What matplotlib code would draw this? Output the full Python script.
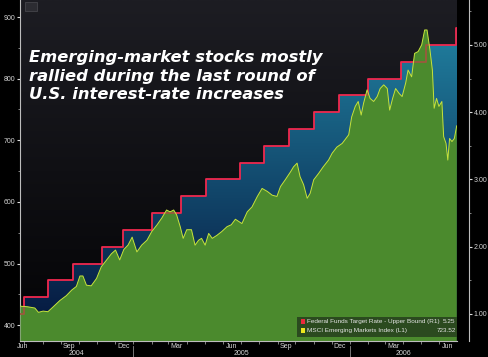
import numpy as np
import pandas as pd
import matplotlib
matplotlib.use('Agg')
import matplotlib.pyplot as plt
import matplotlib.dates as mdates
import matplotlib.transforms as mtransforms
from matplotlib.colors import to_rgb
from matplotlib.patches import Rectangle
from matplotlib.ticker import FormatStrFormatter

# MSCI Emerging Markets Index (left axis)
idx_dates = ['2004-06-24', '2004-07-07', '2004-07-19', '2004-07-25', '2004-08-02', '2004-08-10',
             '2004-08-19', '2004-08-30', '2004-09-10', '2004-09-19', '2004-09-27', '2004-10-03',
             '2004-10-08', '2004-10-14', '2004-10-22', '2004-10-31', '2004-11-08', '2004-11-17',
             '2004-11-25', '2004-12-02', '2004-12-09', '2004-12-16', '2004-12-23', '2004-12-30',
             '2005-01-07', '2005-01-15', '2005-01-24', '2005-02-01', '2005-02-10', '2005-02-18',
             '2005-02-26', '2005-03-04', '2005-03-10', '2005-03-15', '2005-03-21', '2005-03-26',
             '2005-04-01', '2005-04-09', '2005-04-15', '2005-04-21', '2005-04-26', '2005-05-02',
             '2005-05-08', '2005-05-14', '2005-05-22', '2005-05-30', '2005-06-08', '2005-06-15',
             '2005-06-22', '2005-07-03', '2005-07-12', '2005-07-20', '2005-07-29', '2005-08-06',
             '2005-08-15', '2005-08-23', '2005-08-31', '2005-09-06', '2005-09-14', '2005-09-23',
             '2005-09-28', '2005-10-04', '2005-10-09', '2005-10-15', '2005-10-21', '2005-10-26',
             '2005-11-01', '2005-11-09', '2005-11-17', '2005-11-26', '2005-12-02', '2005-12-10',
             '2005-12-19', '2005-12-30', '2006-01-04', '2006-01-10', '2006-01-15', '2006-01-20',
             '2006-01-24', '2006-01-30', '2006-02-04', '2006-02-10', '2006-02-16', '2006-02-21',
             '2006-02-27', '2006-03-05', '2006-03-09', '2006-03-14', '2006-03-19', '2006-03-25',
             '2006-03-30', '2006-04-05', '2006-04-09', '2006-04-15', '2006-04-20', '2006-04-26',
             '2006-05-02', '2006-05-07', '2006-05-11', '2006-05-16', '2006-05-20', '2006-05-23',
             '2006-05-27', '2006-05-31', '2006-06-05', '2006-06-08', '2006-06-12', '2006-06-15',
             '2006-06-18', '2006-06-22', '2006-06-26', '2006-06-30']
idx_vals = [431, 430, 428, 421, 423, 422,
            430, 440, 448, 457, 463, 480,
            480, 465, 464, 476, 495, 506,
            516, 522, 506, 523, 530, 543,
            519, 530, 538, 552, 563, 574,
            587, 584, 587, 579, 560, 541,
            555, 555, 530, 538, 541, 530,
            549, 541, 546, 552, 560, 563,
            572, 565, 584, 592, 609, 622,
            617, 611, 609, 625, 636, 649,
            657, 663, 641, 628, 606, 614,
            636, 646, 657, 668, 679, 689,
            695, 709, 738, 755, 763, 741,
            760, 782, 768, 763, 771, 784,
            790, 784, 749, 768, 784, 776,
            771, 793, 814, 803, 841, 844,
            855, 879, 879, 846, 814, 752,
            768, 755, 763, 706, 695, 668,
            703, 698, 703, 723.52]

# Federal funds target rate, upper bound (right axis)
fed_dates = ['2004-06-24', '2004-06-30', '2004-08-10', '2004-09-21', '2004-11-10', '2004-12-14',
             '2005-02-02', '2005-03-22', '2005-05-03', '2005-06-30', '2005-08-09', '2005-09-20',
             '2005-11-01', '2005-12-13', '2006-01-31', '2006-03-28', '2006-05-10', '2006-06-29',
             '2006-07-01']
fed_vals = [1.00, 1.25, 1.50, 1.75, 2.00, 2.25,
            2.50, 2.75, 3.00, 3.25, 3.50, 3.75,
            4.00, 4.25, 4.50, 4.75, 5.00, 5.25,
            5.25]

title_lines = ['Emerging-market stocks mostly',
               'rallied during the last round of',
               'U.S. interest-rate increases']
month_labels = ['Jun', 'Sep', 'Dec', 'Mar', 'Jun', 'Sep', 'Dec', 'Mar', 'Jun']
month_label_dates = ['2004-06-29', '2004-09-15', '2004-12-15', '2005-03-15', '2005-06-15',
                     '2005-09-15', '2005-12-15', '2006-03-15', '2006-06-15']
years = [2004, 2005, 2006]
legend_labels = ['Federal Funds Target Rate - Upper Bound (R1)',
                 'MSCI Emerging Markets Index (L1)']

idx_dates = pd.to_datetime(idx_dates)
fed_dates = pd.to_datetime(fed_dates)
x0, x1 = pd.Timestamp('2004-06-24'), pd.Timestamp('2006-06-30') + pd.Timedelta(hours=12)

GREEN = '#4b8a2d'
RED = '#f0284e'
YELLOW = '#c6e23c'
AXC = '#bdbdbd'
TXT = '#d4d4d4'


def vgrad(bottom, top, n=256):
    b = np.array(to_rgb(bottom))
    t = np.array(to_rgb(top))
    f = np.linspace(0, 1, n)[:, None]
    return (b + (t - b) * f)[:, None, :]


fig = plt.figure(figsize=(4.88, 3.57), dpi=100, facecolor='black')
ax = fig.add_axes([20 / 488, 1 - 341 / 357, 437 / 488, 341 / 357])
ax.patch.set_visible(False)
ax2 = ax.twinx()

# dark background of the plot area
ax.imshow(vgrad('#030305', '#1d1d23'), extent=(0, 1, 0, 1), transform=ax.transAxes,
          aspect='auto', origin='lower', zorder=0, interpolation='bilinear')

# blue gradient under the fed funds steps
poly = ax.fill_between(fed_dates, fed_vals, 0, step='post', transform=ax2.transData,
                       facecolor='none', edgecolor='none', zorder=1)
blue = ax.imshow(vgrad('#04123a', '#2389a8'), extent=(0, 1, 0, 1), transform=ax.transAxes,
                 aspect='auto', origin='lower', zorder=1, interpolation='bilinear')
blue.set_clip_path(poly.get_paths()[0], poly.get_transform())

ax.fill_between(idx_dates, idx_vals, 0, color=GREEN, lw=0, zorder=2)
ax.step(fed_dates, fed_vals, where='post', transform=ax2.transData, color=RED, lw=1.3, zorder=3)
ax.fill_between(idx_dates, idx_vals, 0, color=GREEN, alpha=0.5, lw=0, zorder=4)
ax.plot(idx_dates, idx_vals, color=YELLOW, lw=0.7, zorder=5)

ax.set_xlim(x0, x1)
ax.set_ylim(374.5, 927.6)
ax2.set_ylim(0.598, 5.669)

# axes styling
for s in ['top', 'right']:
    ax.spines[s].set_visible(False)
for s in ['left', 'bottom']:
    ax.spines[s].set_color(AXC)
    ax.spines[s].set_linewidth(0.8)
for s in ['top', 'left', 'bottom']:
    ax2.spines[s].set_visible(False)
ax2.spines['right'].set_position(('outward', 8.64))
ax2.spines['right'].set_color(AXC)
ax2.spines['right'].set_linewidth(0.8)

ax.set_yticks(np.arange(400, 901, 100))
ax.set_yticks(np.arange(450, 901, 100), minor=True)
ax2.set_yticks(np.arange(1, 6))
ax2.set_yticks(np.arange(1.5, 5.6, 1), minor=True)
ax2.yaxis.set_major_formatter(FormatStrFormatter('%.2f'))
for a in (ax, ax2):
    a.tick_params(axis='y', which='major', length=2.5, width=0.8, color='#dddddd',
                  labelcolor=TXT, labelsize=5, pad=1)
    a.tick_params(axis='y', which='minor', length=1.5, width=0.6, color='#999999')
    for lab in a.get_yticklabels():
        lab.set_family('Liberation Sans')

month_starts = pd.date_range('2004-07-01', '2006-06-01', freq='MS')
ax.set_xticks(month_starts)
ax.tick_params(axis='x', which='major', length=2.5, width=0.6, color='#999999', labelbottom=False)
ax.set_xticks(pd.to_datetime(month_label_dates), minor=True)
ax.set_xticklabels(month_labels, minor=True)
ax.tick_params(axis='x', which='minor', length=0, labelsize=5, labelcolor=TXT, pad=1.2)
for lab in ax.get_xticklabels(minor=True):
    lab.set_family('Liberation Sans')

blend = mtransforms.blended_transform_factory(ax.transData, ax.transAxes)
for y in years:
    start = max(x0, pd.Timestamp(f'{y}-01-01'))
    end = min(x1, pd.Timestamp(f'{y}-12-31'))
    mid = start + (end - start) / 2
    ax.text(mdates.date2num(mid), -0.037, str(y), transform=blend, ha='center', va='center',
            fontsize=5, color=TXT, family='Liberation Sans')
    if pd.Timestamp(f'{y}-01-01') > x0:
        d = mdates.date2num(pd.Timestamp(f'{y}-01-01'))
        ax.plot([d, d], [-0.015, -0.05], transform=blend, clip_on=False, color='#8a8a8a', lw=0.6)

# legend box
ax.add_patch(Rectangle((0.634, 0.0117), 0.366, 0.059, transform=ax.transAxes,
                       facecolor='#2b4a1f', edgecolor='none', zorder=8))
legend_values = [f'{fed_vals[-1]:.2f}', f'{idx_vals[-1]:.2f}']
for i, (lab, val, col) in enumerate(zip(legend_labels, legend_values, ['#ea2a3c', '#ece61e'])):
    yc = 0.0572 - i * 0.0264
    ax.add_patch(Rectangle((0.642, yc - 0.0066), 0.0103, 0.0132, transform=ax.transAxes,
                           facecolor=col, edgecolor='none', zorder=9))
    ax.text(0.657, yc, lab, transform=ax.transAxes, va='center', ha='left', fontsize=4.6,
            color='#e4e4e4', family='Liberation Sans', zorder=9)
    ax.text(0.997, yc, val, transform=ax.transAxes, va='center', ha='right', fontsize=4.6,
            color='#e4e4e4', family='Liberation Sans', zorder=9)

# little icon in the corner
fig.patches.append(Rectangle((25 / 488, 1 - 11 / 357), 12 / 488, 9 / 357, transform=fig.transFigure,
                             facecolor='#2c2c32', edgecolor='#4c4c52', lw=0.5))

for i, line in enumerate(title_lines):
    fig.text(29 / 488, 1 - (62 + 18.5 * i) / 357, line, fontsize=11.8, weight='bold',
             style='italic', color='white', va='baseline', ha='left', family='DejaVu Sans')

fig.savefig('out.png', dpi=100, facecolor='black')
